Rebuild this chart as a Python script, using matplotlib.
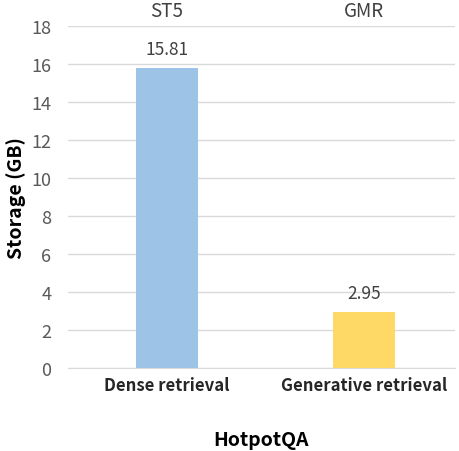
import numpy as np
import matplotlib.pyplot as plt

plt.rcParams['font.family'] = ['Noto Sans CJK SC', 'DejaVu Sans']

methods = ['Dense retrieval', 'Generative retrieval']
models = ['ST5', 'GMR']
storage_gb = [15.81, 2.95]
bar_colors = ['#9DC3E6', '#FFD966']

fig = plt.figure(figsize=(4.59, 4.52), dpi=100)
ax = fig.add_axes([0.148, 0.184, 0.843, 0.756])

x = np.arange(len(methods))
ax.bar(x, storage_gb, width=0.315, color=bar_colors, zorder=3)

for i, v in enumerate(storage_gb):
    ax.text(i, v + 0.5, f'{v:.2f}', ha='center', va='bottom', fontsize=12.5, color='#404040')
    ax.text(i, 18.25, models[i], ha='center', va='bottom', fontsize=13.5, color='#404040', clip_on=False)

ax.set_xlim(-0.5, 1.46)
ax.set_ylim(0, 18)
ax.set_yticks(np.arange(0, 19, 2))
ax.set_xticks(x)
ax.set_xticklabels(methods, fontsize=12, fontweight='bold', color='#262626')
ax.tick_params(axis='y', labelsize=13, labelcolor='#595959', length=0, pad=12)
ax.tick_params(axis='x', length=0, pad=6)
ax.grid(axis='y', color='#D9D9D9', linewidth=1, zorder=0)
for s in ['top', 'right', 'left']:
    ax.spines[s].set_visible(False)
ax.spines['bottom'].set_color('#D9D9D9')

ax.set_ylabel('Storage (GB)', fontsize=14, fontweight='bold', color='#000000', labelpad=4)
ax.set_xlabel('HotpotQA', fontsize=14, fontweight='bold', color='#000000', labelpad=26)

fig.savefig('out.png', dpi=100)
